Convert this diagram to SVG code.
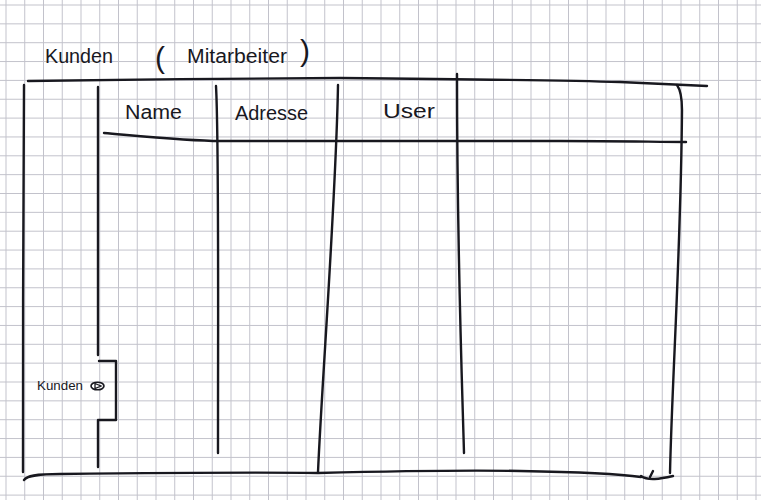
<svg xmlns="http://www.w3.org/2000/svg" width="761" height="500" viewBox="0 0 761 500">
  <style>
    .ink { fill: none; stroke: #18181f; stroke-width: 2.4; stroke-linecap: round; stroke-linejoin: round; }
    .hand { font-family: "Liberation Sans", "DejaVu Sans", sans-serif; fill: #18181f; }
  </style>
  <defs>
    <!-- squared paper, ~18.8 px cells -->
    <pattern id="paper" x="5.5" y="4.5" width="18.75" height="18.85" patternUnits="userSpaceOnUse">
      <path d="M0.5 0 V18.85 M0 0.5 H18.75" fill="none" stroke="#c2c2cb" stroke-width="1"/>
    </pattern>
  </defs>

  <rect width="761" height="500" fill="#ffffff"/>
  <rect width="761" height="500" fill="url(#paper)"/>

  <!-- heading -->
  <g id="title">
    <text class="hand" x="45" y="63" font-size="20" textLength="68" lengthAdjust="spacingAndGlyphs">Kunden</text>
    <text class="hand" x="155" y="68" font-size="30">(</text>
    <text class="hand" x="187" y="63" font-size="20" textLength="100" lengthAdjust="spacingAndGlyphs">Mitarbeiter</text>
    <text class="hand" x="300" y="61" font-size="30">)</text>
  </g>

  <!-- outer frame -->
  <g id="frame">
    <path class="ink" d="M28 81 C120 80 250 78 340 78 C450 79 560 80 620 82 C660 84 690 85 707 86"/>
    <path class="ink" d="M24 85 C23 200 23 350 23 472"/>
    <path class="ink" d="M677 85 Q682 92 682 110 C681 250 672 380 670 473"/>
    <path class="ink" d="M24 480 C27 476 35 474 60 474 C150 473 250 472 318 473 C400 471 470 470 520 471 C580 472 620 474 641 477"/>
    <path class="ink" d="M641 476 C648 481 660 479 673 476 M653 471 L650 477"/>
  </g>

  <!-- side panel with its pull-out tab -->
  <g id="side-panel">
    <path class="ink" d="M98 87 C98 200 98 300 98 355"/>
    <path class="ink" d="M99 361 H116 V420 H99"/>
    <path class="ink" d="M98 420 L98 467"/>
  </g>

  <g id="side-tab">
    <text class="hand" x="37" y="390" font-size="13" textLength="46" lengthAdjust="spacingAndGlyphs">Kunden</text>
    <ellipse cx="97.5" cy="386" rx="6.5" ry="3.8" fill="none" stroke="#18181f" stroke-width="1.6"/>
    <path d="M95 383.5 L101 386 L95 388.5 Z" fill="none" stroke="#18181f" stroke-width="1.3"/>
  </g>

  <!-- table header -->
  <g id="header">
    <path class="ink" d="M104 133 C150 137 190 141 220 141 C350 140 470 140 560 141 C620 141 660 142 686 142"/>
    <text class="hand" x="125" y="119" font-size="20" textLength="57" lengthAdjust="spacingAndGlyphs">Name</text>
    <text class="hand" x="235" y="120" font-size="20" textLength="73" lengthAdjust="spacingAndGlyphs">Adresse</text>
    <text class="hand" x="383" y="118" font-size="20" textLength="52" lengthAdjust="spacingAndGlyphs">User</text>
  </g>

  <!-- column dividers -->
  <g id="columns">
    <path class="ink" d="M216 86 C219 140 218 300 218 453"/>
    <path class="ink" d="M338 85 C336 200 322 380 318 472"/>
    <path class="ink" d="M457 74 C457 250 462 380 464 453"/>
  </g>
</svg>
